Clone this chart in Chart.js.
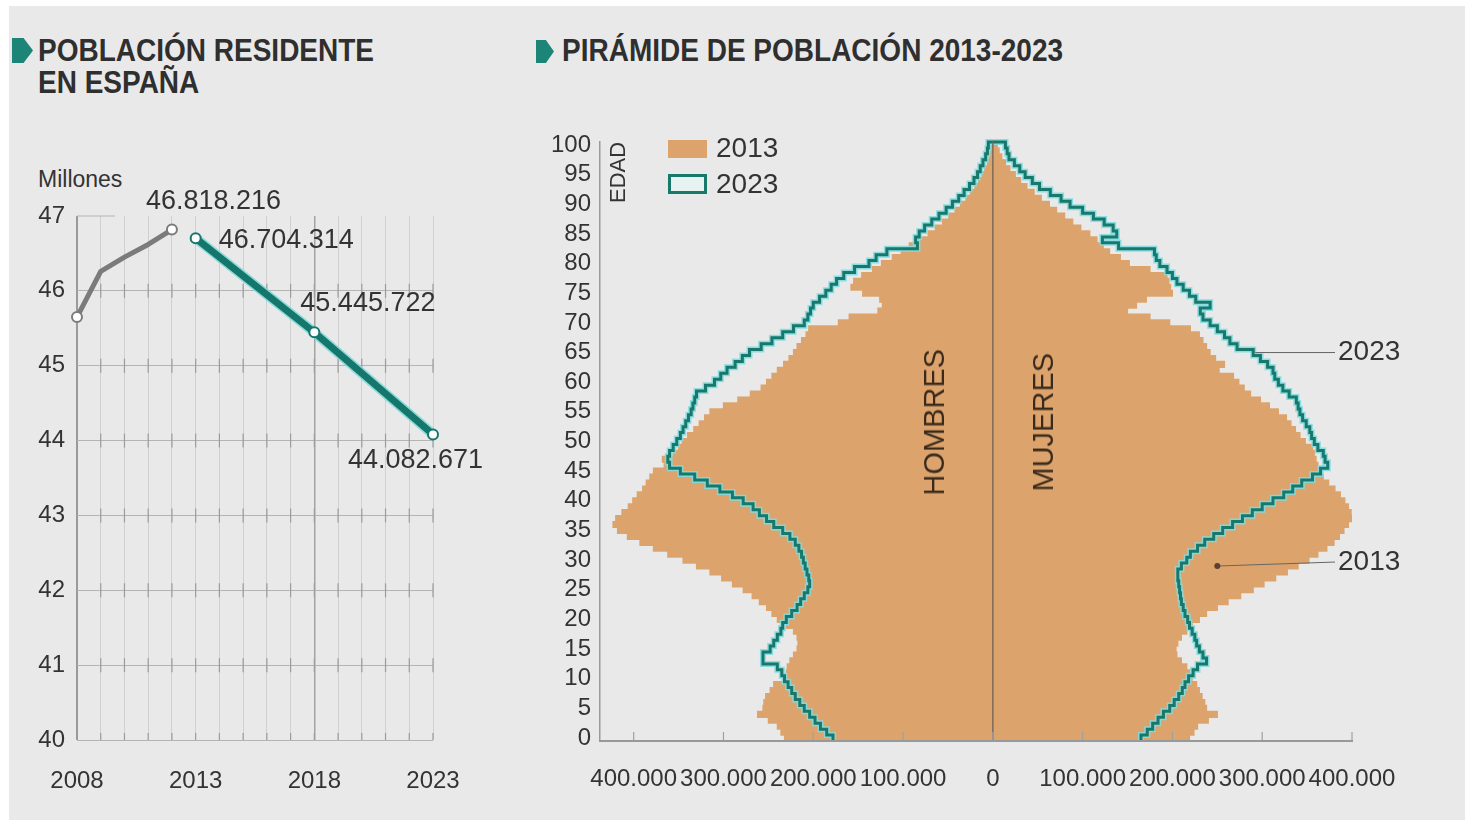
<!DOCTYPE html>
<html>
<head>
<meta charset="utf-8">
<script src="https://cdn.jsdelivr.net/npm/chart.js@4.4.1/dist/chart.umd.min.js"></script>
<style>
  html, body { margin: 0; padding: 0; background: #fff; }
  #page { position: relative; width: 1472px; height: 829px; overflow: hidden; background: #fff;
          font-family: "Liberation Sans", Arial, sans-serif; color: #333; }
  #panel { position: absolute; left: 9px; top: 6px; width: 1456px; height: 814px; background: #e9e9e9; }
  .abs { position: absolute; white-space: nowrap; }
  .titulo { font-weight: bold; font-size: 28px; line-height: 28.5px; color: #2f2f2f;
            transform: scaleY(1.12); transform-origin: top left; }
  .marca { position: absolute; background: #1d8578;
           clip-path: polygon(0 0, 55% 0, 100% 50%, 55% 100%, 0 100%); }
  .vertical { writing-mode: vertical-rl; transform: rotate(180deg); }
  #graf1 { position: absolute; left: 0; top: 0; width: 520px; height: 829px; }
  #graf2 { position: absolute; left: 520px; top: 0; width: 952px; height: 829px; }
</style>
</head>
<body>
<div id="page">
  <div id="panel"></div>

  <div class="marca" style="left:12px; top:38px; width:21px; height:25px;"></div>
  <div class="abs titulo" style="left:38px; top:35px;">POBLACIÓN RESIDENTE<br>EN ESPAÑA</div>
  <div class="abs" style="left:38px; top:165px; font-size:23px; line-height:28px;">Millones</div>

  <div class="marca" style="left:536px; top:40px; width:18px; height:23px;"></div>
  <div class="abs titulo" style="left:562px; top:35px;">PIRÁMIDE DE POBLACIÓN 2013-2023</div>

  <div id="graf1"><canvas id="linea"></canvas></div>
  <div id="graf2"><canvas id="piramide"></canvas></div>

  <!-- leyenda -->
  <div class="abs" style="left:668px; top:140px; width:39px; height:18px; background:#dca46c;"></div>
  <div class="abs" style="left:716px; top:131px; font-size:28px; line-height:34px;">2013</div>
  <div class="abs" style="left:668px; top:174px; width:33px; height:14px; border:3px solid #17786b; background:#e6f3f1;"></div>
  <div class="abs" style="left:716px; top:167px; font-size:28px; line-height:34px;">2023</div>

  <div class="abs vertical" style="left:607px; top:141px; font-size:22px; line-height:22px; height:62px;">EDAD</div>
  <div class="abs vertical" style="left:919px; top:349px; font-size:29px; line-height:30px; color:#3a2a1c;">HOMBRES</div>
  <div class="abs vertical" style="left:1028px; top:353px; font-size:29px; line-height:30px; color:#3a2a1c;">MUJERES</div>
</div>

<script>
// ---- Población residente (millones) ----
const aniosReales = [2008, 2009, 2010, 2011, 2012];
const poblacionReal = [45.65, 46.26, 46.45, 46.62, 46.818216];
const aniosProyeccion = [2013, 2018, 2023];
const poblacionProyeccion = [46.704314, 45.445722, 44.082671];
const aniosEtiqueta = [2008, 2013, 2018, 2023];

// ---- Pirámide: miles de personas por edad (0 a 100) ----
const edades = Array.from({ length: 101 }, (_, i) => String(i));
const hombres2013 = [
  232, 236, 240, 250, 262, 256, 255, 253, 248, 244,
  232, 230, 229, 226, 222, 218, 217, 218, 222, 230,
  240, 246, 252, 260, 268, 278, 290, 302, 315, 330,
  345, 362, 378, 393, 407, 418, 423, 420, 413, 406,
  401, 396, 390, 386, 382, 378, 366, 368, 356, 350,
  346, 340, 333, 327, 321, 315, 300, 284, 270, 258,
  252, 246, 240, 233, 227, 222, 218, 213, 208, 205,
  172, 160, 128, 123, 126, 145, 158, 155, 146, 134,
  124, 112, 102, 93, 82, 72, 64, 56, 49, 42,
  36, 30, 25, 20, 16, 12, 9, 6, 4, 3, 2
];
const mujeres2013 = [
  219, 224, 228, 240, 250, 238, 236, 233, 230, 227,
  222, 219, 216, 210, 205, 204, 206, 210, 216, 222,
  230, 238, 250, 262, 276, 290, 302, 315, 328, 340,
  352, 362, 372, 380, 386, 391, 396, 400, 399, 396,
  392, 387, 381, 374, 368, 364, 362, 360, 358, 356,
  348, 342, 337, 332, 327, 318, 308, 298, 287, 280,
  274, 268, 252, 258, 248, 242, 238, 234, 230, 220,
  197, 175, 150, 160, 171, 200, 198, 196, 194, 175,
  152, 142, 130, 123, 116, 108, 98, 89, 80, 71,
  63, 54, 46, 38, 31, 25, 19, 14, 10, 7, 5
];
const hombres2023 = [
  178, 185, 192, 198, 204, 210, 215, 220, 224, 228,
  232, 235, 240, 256, 256, 248, 244, 240, 236, 234,
  230, 224, 218, 214, 210, 206, 204, 205, 207, 209,
  211, 213, 216, 220, 226, 234, 244, 252, 260, 267,
  278, 290, 304, 318, 332, 348, 360, 362, 360, 356,
  352, 348, 345, 342, 339, 336, 334, 332, 330, 320,
  310, 303, 296, 287, 279, 271, 258, 246, 234, 222,
  210, 206, 203, 200, 193, 186, 180, 174, 166, 154,
  138, 130, 118, 84, 86, 82, 76, 68, 60, 52,
  45, 38, 32, 26, 21, 17, 14, 11, 8, 6, 5
];
const mujeres2023 = [
  165, 172, 178, 184, 190, 197, 202, 207, 211, 214,
  218, 223, 228, 238, 234, 230, 227, 225, 222, 219,
  217, 214, 212, 210, 209, 208, 207, 206, 206, 210,
  216, 220, 228, 236, 246, 256, 267, 278, 289, 300,
  312, 324, 334, 344, 356, 365, 373, 370, 368, 362,
  358, 355, 353, 349, 345, 342, 340, 338, 330, 323,
  318, 314, 312, 306, 298, 290, 272, 264, 258, 250,
  242, 234, 231, 242, 226, 219, 212, 205, 200, 194,
  186, 182, 180, 140, 122, 138, 134, 124, 112, 100,
  86, 76, 64, 52, 44, 36, 30, 24, 18, 16, 14
];
const ticksPiramide = [-400000, -300000, -200000, -100000, 0, 100000, 200000, 300000, 400000];

const fuente = "'Liberation Sans', Arial, sans-serif";
Chart.defaults.font.family = fuente;
Chart.defaults.color = '#333';

const miles = v => String(Math.abs(Math.round(v))).replace(/\B(?=(\d{3})+(?!\d))/g, '.');

// ---------------- gráfico de línea ----------------
const etiquetas = [
  { anio: 2012, valor: poblacionReal[4], dx: -26, dy: -28 },
  { anio: 2013, valor: poblacionProyeccion[0], dx: 23, dy: 2 },
  { anio: 2018, valor: poblacionProyeccion[1], dx: -14, dy: -29 },
  { anio: 2023, valor: poblacionProyeccion[2], dx: -85, dy: 26 }
];

const cruces = {
  id: 'cruces',
  beforeDatasetsDraw(chart) {
    const { ctx, scales: { x, y } } = chart;
    ctx.save();
    ctx.strokeStyle = '#9c9c9c';
    ctx.lineWidth = 1.2;
    for (let a = 2009; a <= 2023; a++) {
      for (let v = 40; v <= 46; v++) {
        const px = x.getPixelForValue(a), py = y.getPixelForValue(v);
        ctx.beginPath();
        ctx.moveTo(px, py - 7);
        ctx.lineTo(px, v === 40 ? py : py + 7);
        ctx.stroke();
      }
    }
    // tramo corto de la línea de 47
    const y47 = y.getPixelForValue(47);
    ctx.strokeStyle = '#b4b4b4';
    ctx.beginPath();
    ctx.moveTo(x.getPixelForValue(2008), y47);
    ctx.lineTo(x.getPixelForValue(2009.6), y47);
    ctx.stroke();
    ctx.restore();
  }
};

const rotulos = {
  id: 'rotulos',
  afterDatasetsDraw(chart) {
    const { ctx, scales: { x, y } } = chart;
    ctx.save();
    ctx.font = '27px ' + fuente;
    ctx.fillStyle = '#333';
    ctx.textBaseline = 'middle';
    ctx.textAlign = 'left';
    etiquetas.forEach(e => {
      ctx.fillText(miles(e.valor * 1e6), x.getPixelForValue(e.anio) + e.dx, y.getPixelForValue(e.valor) + e.dy);
    });
    ctx.restore();
  }
};

const serieReal = aniosReales.map((a, i) => ({ x: a, y: poblacionReal[i] }));
const serieProy = aniosProyeccion.map((a, i) => ({ x: a, y: poblacionProyeccion[i] }));

new Chart(document.getElementById('linea'), {
  type: 'line',
  data: {
    datasets: [
      {
        data: serieProy, borderColor: '#15776b', borderWidth: 7, tension: 0, clip: false,
        pointRadius: 5, pointBackgroundColor: '#fff', pointBorderColor: '#15776b', pointBorderWidth: 2, order: 1
      },
      {
        data: serieProy, borderColor: 'rgba(120,215,215,0.85)', borderWidth: 10, tension: 0, clip: false,
        pointRadius: 0, order: 2
      },
      {
        data: serieReal, borderColor: '#7b7b7b', borderWidth: 5, tension: 0, clip: false,
        borderJoinStyle: 'round',
        pointRadius: [5, 0, 0, 0, 5], pointBackgroundColor: '#fff', pointBorderColor: '#7b7b7b', pointBorderWidth: 2, order: 3
      }
    ]
  },
  options: {
    responsive: true, maintainAspectRatio: false, animation: false, devicePixelRatio: 1,
    layout: { padding: { left: 30, right: 87, top: 216, bottom: 29 } },
    plugins: { legend: { display: false }, tooltip: { enabled: false } },
    scales: {
      x: {
        type: 'linear', min: 2008, max: 2023,
        afterFit: s => { s.height = 60; },
        border: { display: false },
        grid: {
          drawTicks: false,
          color: c => c.tick.value === 2008 ? '#9a9a9a' : (c.tick.value === 2018 ? '#a4a4a4' : '#d0d0d0'),
          lineWidth: c => c.tick.value === 2008 ? 2 : (c.tick.value === 2018 ? 1.5 : 1)
        },
        ticks: {
          stepSize: 1, autoSkip: false, maxRotation: 0, padding: 27,
          font: { size: 24 },
          callback: v => aniosEtiqueta.includes(v) ? String(v) : ''
        }
      },
      y: {
        min: 40, max: 47,
        afterFit: s => { s.width = 47; },
        border: { display: false },
        grid: { drawTicks: false, color: c => c.tick.value === 47 ? 'rgba(0,0,0,0)' : '#b4b4b4' },
        ticks: { stepSize: 1, padding: 12, font: { size: 24 } }
      }
    }
  },
  plugins: [cruces, rotulos]
});

// ---------------- pirámide ----------------
function contorno(hombres, mujeres) {
  const pts = [];
  hombres.forEach((v, i) => {
    pts.push({ x: -v * 1000, y: i - 0.5 }, { x: -v * 1000, y: i + 0.5 });
  });
  for (let i = mujeres.length - 1; i >= 0; i--) {
    pts.push({ x: mujeres[i] * 1000, y: i + 0.5 }, { x: mujeres[i] * 1000, y: i - 0.5 });
  }
  return pts;
}
const perfil2023 = contorno(hombres2023, mujeres2023);

const extrasPiramide = {
  id: 'extrasPiramide',
  afterDatasetsDraw(chart) {
    const { ctx, chartArea: ca, scales: { x, y } } = chart;
    ctx.save();
    // línea central
    const x0 = x.getPixelForValue(0);
    ctx.strokeStyle = '#7e6a58';
    ctx.lineWidth = 1.5;
    ctx.beginPath(); ctx.moveTo(x0, ca.top); ctx.lineTo(x0, ca.bottom); ctx.stroke();
    // marcas del eje
    ctx.strokeStyle = '#a0a0a0';
    ctx.lineWidth = 1.2;
    ticksPiramide.forEach(t => {
      const px = x.getPixelForValue(t);
      ctx.beginPath(); ctx.moveTo(px, ca.bottom); ctx.lineTo(px, ca.bottom - 9); ctx.stroke();
    });
    // llamadas 2023 y 2013
    ctx.font = '28px ' + fuente;
    ctx.fillStyle = '#333';
    ctx.textBaseline = 'middle';
    const xt = ca.right - 14;
    const y23 = y.getPixelForValue(65);
    ctx.strokeStyle = '#666';
    ctx.lineWidth = 1;
    ctx.beginPath(); ctx.moveTo(x.getPixelForValue(mujeres2023[65] * 1000) + 2, y23); ctx.lineTo(xt - 3, y23); ctx.stroke();
    ctx.fillText('2023', xt, y23);
    const y13 = y.getPixelForValue(29);
    const xd = x.getPixelForValue(250000);
    ctx.beginPath(); ctx.moveTo(xd, y13); ctx.lineTo(xt - 3, y13 - 4); ctx.stroke();
    ctx.fillStyle = '#5a4030';
    ctx.beginPath(); ctx.arc(xd, y13, 3, 0, Math.PI * 2); ctx.fill();
    ctx.fillStyle = '#333';
    ctx.fillText('2013', xt, y13 - 4);
    ctx.restore();
  }
};

new Chart(document.getElementById('piramide'), {
  type: 'bar',
  data: {
    labels: edades,
    datasets: [
      {
        type: 'line', data: perfil2023, xAxisID: 'x', yAxisID: 'yl',
        borderColor: '#17786b', borderWidth: 3, pointRadius: 0, tension: 0, fill: false,
        borderJoinStyle: 'miter', clip: false, order: 1
      },
      {
        type: 'line', data: perfil2023, xAxisID: 'x', yAxisID: 'yl',
        borderColor: 'rgba(130,220,225,0.9)', borderWidth: 6, pointRadius: 0, tension: 0, fill: false,
        clip: false, order: 2
      },
      {
        data: hombres2013.map(v => -v * 1000), backgroundColor: '#dca46c',
        barPercentage: 1, categoryPercentage: 1, grouped: false, inflateAmount: 0.6, order: 3
      },
      {
        data: mujeres2013.map(v => v * 1000), backgroundColor: '#dca46c',
        barPercentage: 1, categoryPercentage: 1, grouped: false, inflateAmount: 0.6, order: 3
      }
    ]
  },
  options: {
    indexAxis: 'y',
    responsive: true, maintainAspectRatio: false, animation: false, devicePixelRatio: 1,
    layout: { padding: { left: 10, right: 120, top: 142, bottom: 28 } },
    plugins: { legend: { display: false }, tooltip: { enabled: false } },
    scales: {
      x: {
        type: 'linear', min: -437500, max: 400000,
        afterBuildTicks: s => { s.ticks = ticksPiramide.map(v => ({ value: v })); },
        afterFit: s => { s.height = 60; },
        border: { display: true, color: '#999', width: 2, z: 1 },
        grid: { display: false },
        ticks: { padding: 16, autoSkip: false, maxRotation: 0, font: { size: 24 }, callback: v => miles(v) }
      },
      y: {
        type: 'category', reverse: true, offset: true,
        afterFit: s => { s.width = 70; },
        border: { display: true, color: '#9a9a9a', width: 1.5 },
        grid: { display: false, drawTicks: false },
        ticks: {
          autoSkip: false, padding: 9, font: { size: 24 },
          callback: (v, i) => i % 5 === 0 ? edades[i] : ''
        }
      },
      yl: { type: 'linear', min: -0.5, max: 100.5, offset: false, display: false, grid: { offset: false } }
    }
  },
  plugins: [extrasPiramide]
});
</script>
</body>
</html>
